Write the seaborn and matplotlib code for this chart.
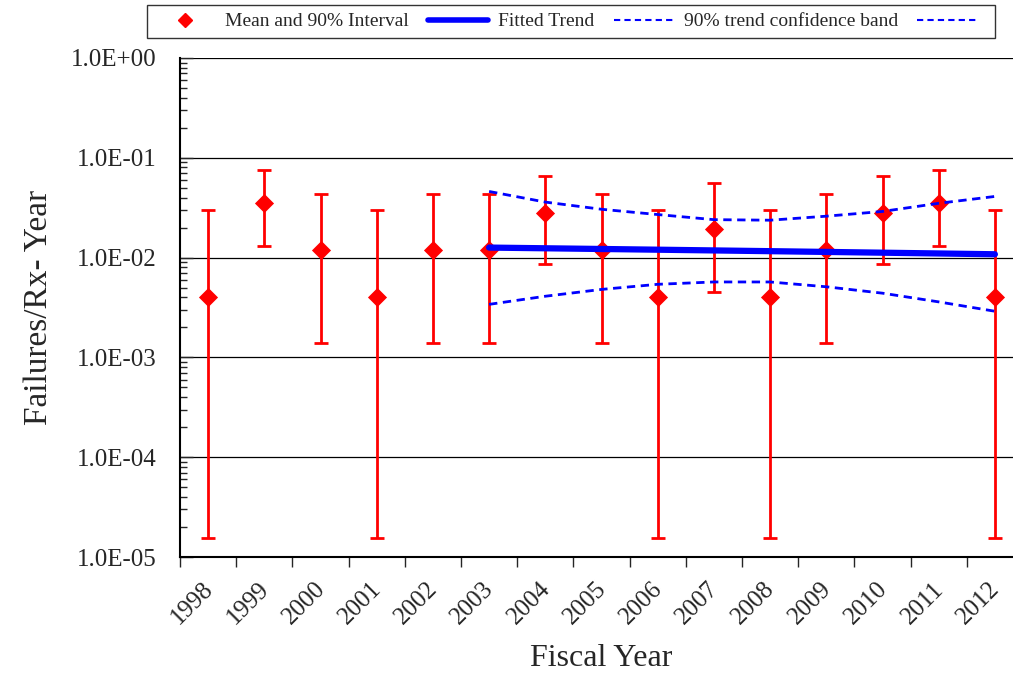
import numpy as np
import pandas as pd
import seaborn as sns
import matplotlib
matplotlib.use("Agg")
import matplotlib.pyplot as plt
import matplotlib.transforms as mtransforms
from matplotlib.lines import Line2D
from matplotlib.ticker import LogLocator, FixedLocator, NullFormatter

# data
years = [1998, 1999, 2000, 2001, 2002, 2003, 2004, 2005, 2006, 2007, 2008, 2009, 2010, 2011, 2012]
mean_rate = [0.0040, 0.0355, 0.0120, 0.0040, 0.0120, 0.0120, 0.0280, 0.0120, 0.0040, 0.0195,
             0.0040, 0.0120, 0.0280, 0.0355, 0.0040]
lower_90 = [1.55e-5, 0.0132, 0.00138, 1.55e-5, 0.00138, 0.00138, 0.0087, 0.00138, 1.55e-5, 0.0045,
            1.55e-5, 0.00138, 0.0087, 0.0132, 1.55e-5]
upper_90 = [0.030, 0.076, 0.0437, 0.030, 0.0437, 0.0437, 0.066, 0.0437, 0.030, 0.0556,
            0.030, 0.0437, 0.066, 0.076, 0.030]

trend_years = [2003, 2004, 2005, 2006, 2007, 2008, 2009, 2010, 2011, 2012]
trend_fit = [0.0126, 0.0124, 0.0122, 0.0120, 0.0118, 0.0116, 0.0114, 0.0112, 0.0110, 0.0108]
band_upper = [0.046, 0.036, 0.0305, 0.027, 0.024, 0.0237, 0.026, 0.029, 0.035, 0.041]
band_lower = [0.0034, 0.0041, 0.0048, 0.0054, 0.0057, 0.0057, 0.0051, 0.0044, 0.0036, 0.0029]

df = pd.DataFrame({"year": years, "mean": mean_rate, "lo": lower_90, "hi": upper_90})
trend = pd.DataFrame({"year": trend_years, "fit": trend_fit, "up": band_upper, "low": band_lower})

sns.set_style("white")
plt.rcParams["font.family"] = ["Liberation Serif", "DejaVu Serif"]

fig = plt.figure(figsize=(10.13, 6.73), dpi=100)
ax = fig.add_axes([180 / 1013, 116 / 673, 843 / 1013, 499 / 673])
ax.set_yscale("log")

# gridlines at decades
ax.grid(True, which="major", axis="y", color="black", linewidth=0.9)
ax.set_axisbelow(True)

# error bars for the mean and 90% interval
yerr = [df["mean"] - df["lo"], df["hi"] - df["mean"]]
ax.errorbar(df["year"], df["mean"], yerr=yerr, fmt="none", ecolor="red",
            elinewidth=2, capsize=5, capthick=2, zorder=3)
sns.scatterplot(data=df, x="year", y="mean", marker="D", color="red", s=95,
                edgecolor="red", linewidth=0, zorder=4, ax=ax)

# fitted trend and confidence band
sns.lineplot(data=trend, x="year", y="fit", color="blue", linewidth=4.5, zorder=5, ax=ax)
sns.lineplot(data=trend, x="year", y="up", color="blue", linewidth=2, linestyle=(0, (3, 2)), zorder=5, ax=ax)
sns.lineplot(data=trend, x="year", y="low", color="blue", linewidth=2, linestyle=(0, (3, 2)), zorder=5, ax=ax)

ax.set_ylim(1e-5, 1)
ax.set_xlim(years[0] - 0.5, years[-1] + 0.5)

ax.set_yticks([1e-5, 1e-4, 1e-3, 1e-2, 1e-1, 1])
ax.set_yticklabels(["1.0E-05", "1.0E-04", "1.0E-03", "1.0E-02", "1.0E-01", "1.0E+00"], fontsize=18)
ax.yaxis.set_minor_locator(LogLocator(base=10, subs=np.arange(2, 10)))
ax.yaxis.set_minor_formatter(NullFormatter())
ax.tick_params(axis="y", which="major", direction="in", length=9, width=1, left=True, pad=17)
ax.tick_params(axis="y", which="minor", direction="in", length=5, width=1, left=True)

# x ticks at boundaries, labels at centers
ax.xaxis.set_major_locator(FixedLocator([y - 0.5 for y in years]))
ax.xaxis.set_major_formatter(NullFormatter())
ax.set_xticks(years, minor=True)
ax.set_xticklabels([str(y) for y in years], minor=True, rotation=45, ha="right", fontsize=18)
ax.tick_params(axis="x", which="major", direction="out", length=7, width=1, bottom=True)
ax.tick_params(axis="x", which="minor", length=0, pad=15)
shift = mtransforms.ScaledTranslation(9 / 100, 0, fig.dpi_scale_trans)
for lab in ax.get_xticklabels(minor=True):
    lab.set_transform(lab.get_transform() + shift)

for side in ["top", "right"]:
    ax.spines[side].set_visible(False)
ax.spines["left"].set_color("black")
ax.spines["left"].set_linewidth(1.5)
ax.spines["bottom"].set_color("black")
ax.spines["bottom"].set_linewidth(1.5)

ax.set_xlabel("Fiscal Year", fontsize=23, labelpad=11)
ax.set_ylabel("Failures/Rx- Year", fontsize=24, labelpad=12)

handles = [
    Line2D([], [], marker="D", color="red", linestyle="none", markersize=7),
    Line2D([], [], color="blue", linewidth=4),
    Line2D([], [], color="blue", linewidth=1.5, linestyle=(0, (3, 2))),
    Line2D([], [], color="blue", linewidth=1.5, linestyle=(0, (3, 2))),
]
labels = ["Mean and 90% Interval", "Fitted Trend", "90% trend confidence band", ""]
leg = fig.legend(handles, labels, loc="upper left", bbox_to_anchor=(147 / 1013, 1 - 5 / 673),
                 ncol=4, frameon=True, fancybox=False, edgecolor="black", fontsize=14,
                 handlelength=3.1, columnspacing=1.0, handletextpad=0.5, borderpad=0.4,
                 borderaxespad=0)
leg.get_frame().set_linewidth(1.0)

fig.savefig("out.png", dpi=100)
